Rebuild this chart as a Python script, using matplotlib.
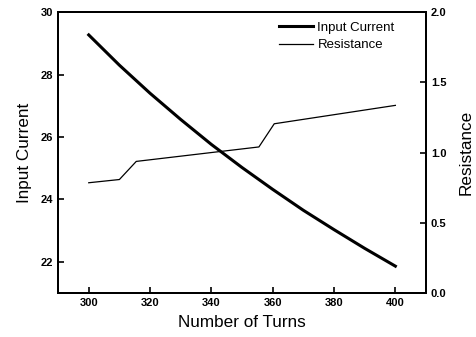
import matplotlib
matplotlib.use('Agg')
import matplotlib.pyplot as plt

# coil sweep: turns vs. input current and resistance
turns = [300, 310, 320, 330, 340, 350, 360, 370, 380, 390, 400]
input_current = [29.27, 28.30, 27.40, 26.56, 25.76, 25.02, 24.32, 23.65, 23.03, 22.43, 21.86]

res_turns = [300, 310, 315.5, 355.5, 360.5, 400]
resistance = [0.785, 0.808, 0.937, 1.04, 1.205, 1.336]

x_ticks = [300, 320, 340, 360, 380, 400]
i_ticks = [22, 24, 26, 28, 30]
r_ticks = [0.0, 0.5, 1.0, 1.5, 2.0]

plt.rcParams['font.family'] = ['Liberation Sans', 'DejaVu Sans']

fig = plt.figure(figsize=(4.76, 3.37), dpi=100)
ax = fig.add_axes([0.122, 0.1306, 0.773, 0.8334])
ax2 = ax.twinx()

l1, = ax.plot(turns, input_current, color='black', lw=2.2, label='Input Current')
l2, = ax2.plot(res_turns, resistance, color='black', lw=0.9, label='Resistance')

ax.set_xlim(290, 410)
ax.set_ylim(21, 30)
ax2.set_ylim(0, 2.0)
ax.set_xticks(x_ticks)
ax.set_yticks(i_ticks)
ax2.set_yticks(r_ticks)
ax2.set_yticklabels(['%.1f' % v for v in r_ticks])

for a in (ax, ax2):
    for s in a.spines.values():
        s.set_linewidth(1.4)
    a.tick_params(direction='in', length=4, width=1.2, labelsize=8)
    for lab in a.get_xticklabels() + a.get_yticklabels():
        lab.set_fontweight('bold')

ax.set_xlabel('Number of Turns', fontsize=12.3, labelpad=5)
ax.set_ylabel('Input Current', fontsize=12.3, labelpad=6)
ax2.set_ylabel('Resistance', fontsize=12.3, labelpad=9)

ax.legend(handles=[l1, l2], loc='upper right', frameon=False, fontsize=9.5,
          handlelength=2.6, handletextpad=0.3, borderaxespad=0.3,
          labelspacing=0.4, bbox_to_anchor=(0.94, 1.0))

fig.savefig('out.png', dpi=100)
